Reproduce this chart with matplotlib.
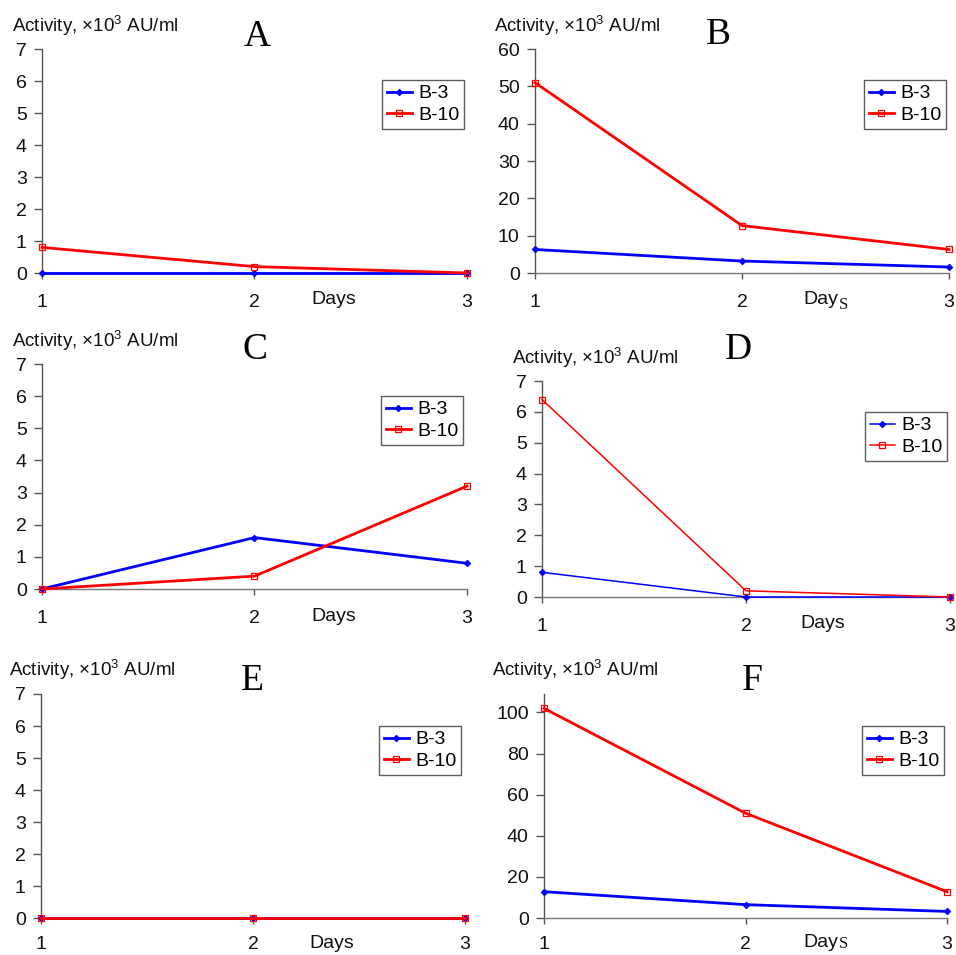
import matplotlib
matplotlib.use("Agg")
import matplotlib.pyplot as plt

plt.rcParams['font.family'] = ['Liberation Sans', 'DejaVu Sans']
plt.rcParams['mathtext.fontset'] = 'custom'
plt.rcParams['mathtext.rm'] = 'Liberation Sans'
plt.rcParams['mathtext.it'] = 'Liberation Sans:italic'
plt.rcParams['mathtext.bf'] = 'Liberation Sans:bold'

days = [1, 2, 3]
series_names = ["B-3", "B-10"]

A_b3 = [0, 0, 0]
A_b10 = [0.8, 0.2, 0]
B_b3 = [6.3, 3.2, 1.6]
B_b10 = [51, 12.7, 6.3]
C_b3 = [0, 1.6, 0.8]
C_b10 = [0, 0.4, 3.2]
D_b3 = [0.8, 0, 0]
D_b10 = [6.4, 0.2, 0]
E_b3 = [0, 0, 0]
E_b10 = [0, 0, 0]
F_b3 = [12.8, 6.5, 3.2]
F_b10 = [102, 51, 12.8]

panel_letters = ["A", "B", "C", "D", "E", "F"]
ylabel_text = r"Activity, ×10$^{3}$ AU/ml"

W, H = 956, 955
fig = plt.figure(figsize=(W / 100, H / 100), dpi=100)

def fx(px):
    return px / W

def fy(py):
    return 1 - py / H

# panel layout in pixels: left, right, top, bottom
panels = [
    dict(letter="A", b3=A_b3, b10=A_b10, box=(42, 467, 49, 273), ymax=7, ticks=list(range(0, 8)),
         lw=2.0, letter_xy=(257, 37), ylab_xy=(12, 26), leg=(464, 80), days_xy=(334, 300), sub=False, xpad=11, sdy=5),
    dict(letter="B", b3=B_b3, b10=B_b10, box=(535, 949, 49, 273), ymax=60, ticks=list(range(0, 61, 10)),
         lw=2.0, letter_xy=(718, 35), ylab_xy=(494, 26), leg=(946, 80), days_xy=(803, 300), sub=True, xpad=11, sdy=5),
    dict(letter="C", b3=C_b3, b10=C_b10, box=(42, 467, 364, 589), ymax=7, ticks=list(range(0, 8)),
         lw=2.0, letter_xy=(255, 350), ylab_xy=(12, 341), leg=(463, 396), days_xy=(334, 616), sub=False, xpad=11, sdy=5),
    dict(letter="D", b3=D_b3, b10=D_b10, box=(542, 950, 381, 597), ymax=7, ticks=list(range(0, 8)),
         lw=1.1, letter_xy=(738, 350), ylab_xy=(512, 358), leg=(947, 412), days_xy=(823, 624), sub=False, xpad=11, sdy=5),
    dict(letter="E", b3=E_b3, b10=E_b10, box=(41, 465, 694, 918), ymax=7, ticks=list(range(0, 8)),
         lw=2.0, letter_xy=(252, 681), ylab_xy=(9, 670), leg=(461, 726), days_xy=(332, 943), sub=False, xpad=9, sdy=3),
    dict(letter="F", b3=F_b3, b10=F_b10, box=(544, 947, 694, 918), ymax=109, ticks=list(range(0, 101, 20)),
         lw=2.0, letter_xy=(752, 681), ylab_xy=(492, 670), leg=(944, 726), days_xy=(803, 942), sub=True, xpad=9, sdy=2),
]

renderer = fig.canvas.get_renderer()

for p in panels:
    l, r, t, b = p["box"]
    ax = fig.add_axes([fx(l), fy(b), fx(r - l), (b - t) / H])
    ax.plot(days, p["b3"], color="#0000FF", lw=p["lw"], marker="D", markersize=3.2,
            markerfacecolor="#0000FF", markeredgewidth=0.8, label=series_names[0], clip_on=False, zorder=3)
    ax.plot(days, p["b10"], color="#FF0000", lw=p["lw"], marker="s", markersize=5,
            markerfacecolor="none", markeredgewidth=0.9, label=series_names[1], clip_on=False, zorder=4)
    ax.set_xlim(1, 3)
    ax.set_ylim(0, p["ymax"])
    ax.set_xticks(days)
    ax.set_xticklabels([str(d) for d in days])
    ax.set_yticks(p["ticks"])
    ax.set_yticklabels([str(v) for v in p["ticks"]])
    for s in ["top", "right"]:
        ax.spines[s].set_visible(False)
    ax.spines["left"].set_color("#555555")
    ax.spines["left"].set_linewidth(1.0)
    ax.spines["bottom"].set_color("#777777")
    ax.spines["bottom"].set_linewidth(1.0)
    ax.tick_params(axis="y", direction="out", length=6, width=1, color="#555555",
                   labelsize=14, pad=5, labelcolor="#111111")
    ax.tick_params(axis="x", direction="out", length=4, width=1, color="#555555",
                   labelsize=14, pad=p["xpad"], labelcolor="#111111")
    ax.patch.set_alpha(0)

    leg = ax.legend(loc="upper right", bbox_to_anchor=(fx(p["leg"][0]), fy(p["leg"][1])),
                    bbox_transform=fig.transFigure, fontsize=14, frameon=True, fancybox=False,
                    borderpad=0.25, handlelength=1.3, handletextpad=0.3, labelspacing=0.2,
                    borderaxespad=0)
    leg.get_frame().set_edgecolor("#333333")
    leg.get_frame().set_linewidth(1.0)

    fig.text(fx(p["letter_xy"][0]), fy(p["letter_xy"][1]), p["letter"], family="Liberation Serif",
             fontsize=27, ha="center", va="center", color="black")
    fig.text(fx(p["ylab_xy"][0]), fy(p["ylab_xy"][1]), ylabel_text, fontsize=13.5,
             ha="left", va="center", color="#111111")
    if p["sub"]:
        tx = fig.text(fx(p["days_xy"][0]), fy(p["days_xy"][1]), "Day", fontsize=14,
                      ha="left", va="center", color="#111111")
        ext = tx.get_window_extent(renderer=renderer)
        fig.text(ext.x1 / W + fx(1), fy(p["days_xy"][1] + p["sdy"]), "S", family="Liberation Serif",
                 fontsize=12, ha="left", va="center", color="#111111")
    else:
        fig.text(fx(p["days_xy"][0]), fy(p["days_xy"][1]), "Days", fontsize=14,
                 ha="center", va="center", color="#111111")

fig.savefig("out.png", dpi=100)
